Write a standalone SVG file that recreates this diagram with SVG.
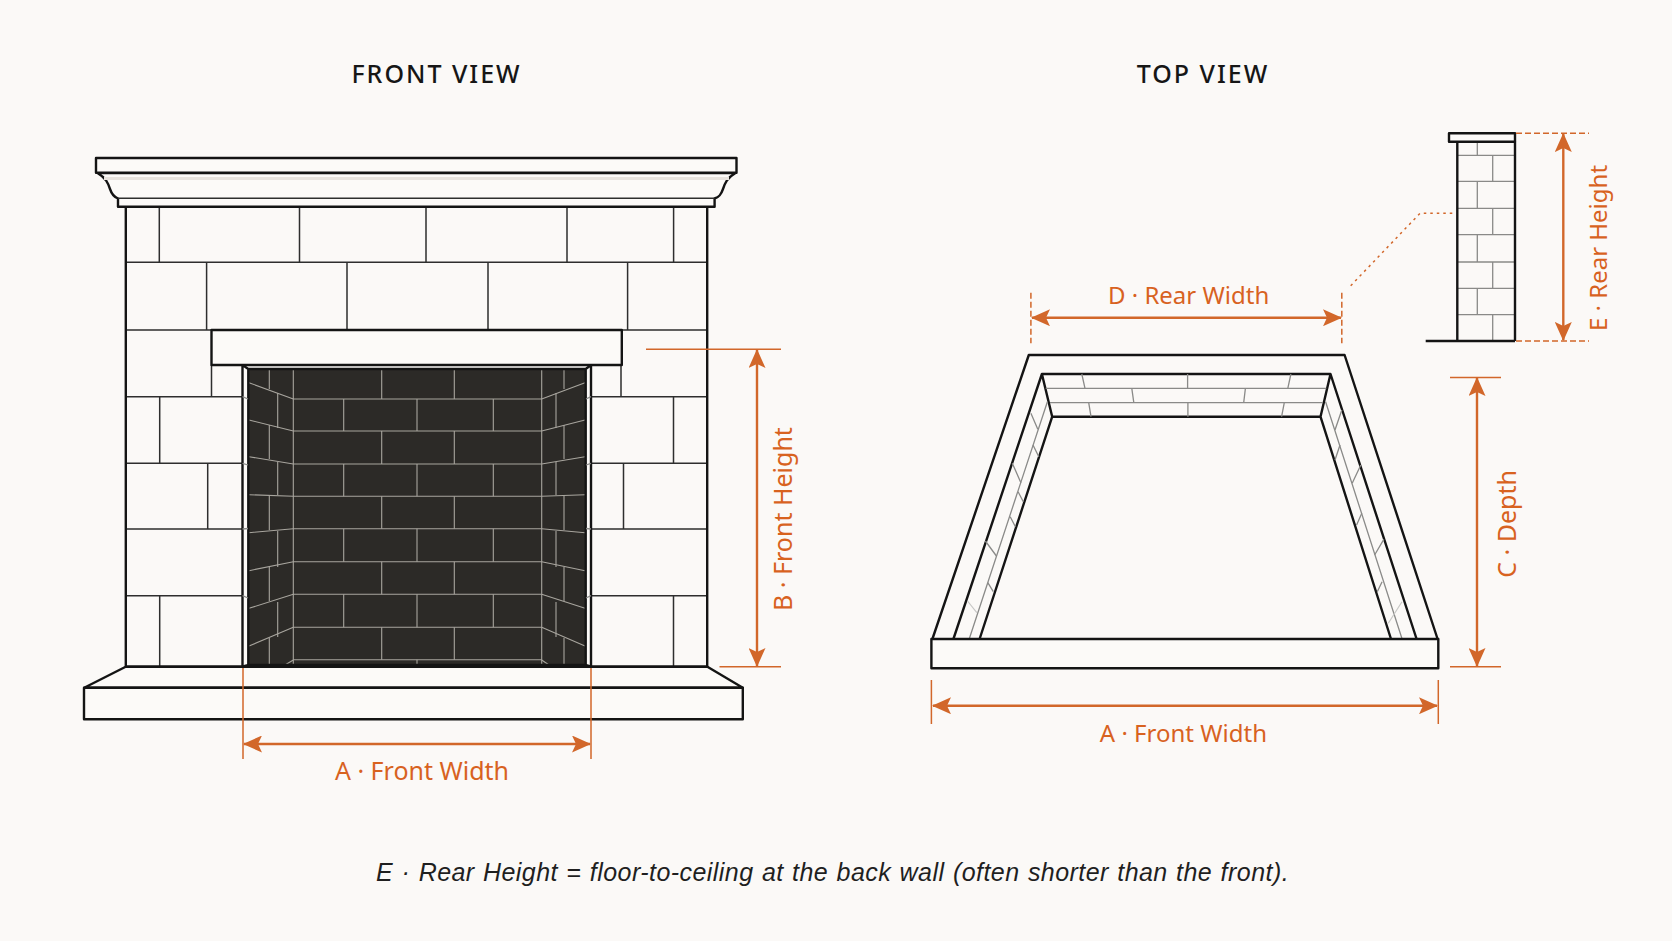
<svg xmlns="http://www.w3.org/2000/svg" width="1672" height="941" viewBox="0 0 1672 941">
<style>
.o{fill:none;stroke:#141414;stroke-width:2.4;stroke-linejoin:round}
.w{fill:#fcfaf8;stroke:#141414;stroke-width:2.4;stroke-linejoin:round}
.m{fill:none;stroke:#2e2e2e;stroke-width:1.5}
.g{fill:none;stroke:#8a8a88;stroke-width:1.3}
.t{fill:none;stroke:#a8a59e;stroke-width:1.1}
.d{fill:none;stroke:#d2672a;stroke-width:2.4}
.e{fill:none;stroke:#d2672a;stroke-width:1.5}
.l{fill:#d8621f;font-family:'Noto Sans','Liberation Sans',sans-serif;font-size:24px;text-anchor:middle}
.b{font-size:25px}
.h{fill:#161616;font-family:'Noto Sans','Liberation Sans',sans-serif;font-size:25px;font-weight:500;letter-spacing:2px;text-anchor:middle}
</style>
<defs>
<marker id="a" viewBox="0 0 19 17" refX="18" refY="8.5" markerWidth="19" markerHeight="17" markerUnits="userSpaceOnUse" orient="auto-start-reverse"><path d="M0 0L19 8.5L0 17L4 8.5Z" fill="#d2672a"/></marker>
</defs>
<rect width="1672" height="941" fill="#fbf9f7"/>
<text class="h" x="436.5" y="83">FRONT VIEW</text>
<text class="h" x="1203" y="83">TOP VIEW</text>
<g id="front-fireplace">
<path class="m" d="M126 262.3H707M126 330H707M126 396.7H243M591 396.7H707M126 463.3H243M591 463.3H707M126 529H243M591 529H707M126 595.7H243M591 595.7H707"/>
<path class="m" d="M159.3 206.7V262.3M299.5 206.7V262.3M426 206.7V262.3M567 206.7V262.3M673.6 206.7V262.3M206.6 262.3V330M347 262.3V330M488 262.3V330M627.6 262.3V330M211.5 365V396.7M621 365V396.7M159.7 396.7V463.3M673.5 396.7V463.3M207.7 463.3V529M623.5 463.3V529M159.7 595.7V666.7M673.5 595.7V666.7"/>
<path class="o" d="M125.8 206.7V666.7H242.5M707.2 206.7V666.7H591"/>
</g>
<g id="front-mantel">
<path class="w" d="M97.5 173C106 178 108 183 110 189C112 195 114 197 118 198.5V206.7H714.6V198.5C719 197 721 195 723 189C725 183 727 178 735.5 173Z"/>
<path fill="none" stroke="#e8e3de" stroke-width="3" d="M104 178.5H729"/>
<path class="m" d="M118 198.3H714.6"/>
<rect class="w" x="96" y="158" width="640.5" height="14.7"/>
</g>
<g id="front-lintel"><rect class="w" x="211.5" y="330" width="410.3" height="35"/></g>
<g id="firebox">
<rect x="248.3" y="369" width="337.4" height="296" fill="#2c2a27"/>
<path class="t" d="M293.3 369V665M541.7 369V665M293.3 399H541.7M293.3 431H541.7M293.3 464H541.7M293.3 496.3H541.7M293.3 528.7H541.7M293.3 561.7H541.7M293.3 594.3H541.7M293.3 627.3H541.7M293.3 659.7H541.7"/>
<path class="t" d="M381.7 369V399M454.3 369V399M343.7 399V431M417 399V431M493.3 399V431M381.7 431V464M454.3 431V464M343.7 464V496.3M417 464V496.3M493.3 464V496.3M381.7 496.3V528.7M454.3 496.3V528.7M343.7 528.7V561.7M417 528.7V561.7M493.3 528.7V561.7M381.7 561.7V594.3M454.3 561.7V594.3M343.7 594.3V627.3M417 594.3V627.3M493.3 594.3V627.3M381.7 627.3V659.7M454.3 627.3V659.7M417 659.7V665"/>
<path class="t" d="M293.3 399L249 382.7M293.3 431L249 420M293.3 464L249 456.7M293.3 496.3L249 494.7M293.3 528.7L249 532.7M293.3 561.7L249 570.7M293.3 594.3L249 608.3M293.3 627.3L249 646M293.3 660L285 665"/>
<path class="t" d="M541.7 399L585 382.7M541.7 431L585 420M541.7 464L585 456.7M541.7 496.3L585 494.7M541.7 528.7L585 532.7M541.7 561.7L585 570.7M541.7 594.3L585 608.3M541.7 627.3L585 646M541.7 660L549 665"/>
<path class="t" d="M269.3 370V389M277.7 393V428M269.3 425V459M277.7 462V495M269.3 495V530M277.7 531V567M269.3 567V601M277.7 602V637M269.3 638V665M564 370V389M556 393V428M564 425V459M556 462V495M564 495V530M556 531V567M564 567V601M556 602V637M564 638V665"/>
<path class="o" d="M242.5 365V666.7M591 365V666.7M248.3 369V665H585.7V369H248.3L242.5 365M585.7 369L591 365M248.3 665L242.5 666.7M585.7 665L591 666.7"/>
<path class="g" d="M242.5 396.7L248 399M242.5 463.3L248 465M242.5 529L248 528.5M242.5 595.7L248 598M591 396.7L586 399M591 463.3L586 465M591 529L586 528.5M591 595.7L586 598"/>
</g>
<g id="front-hearth">
<path class="w" d="M125.7 666.7H707.4L742.8 687.7H84.2Z"/>
<rect class="w" x="84" y="687.7" width="658.8" height="31.6"/>
</g>
<g id="top-view">
<path class="o" d="M932.4 639L1028.8 355H1344.6L1437.6 639M953.4 639L1041.9 374H1330.5L1416.6 639M979.6 639L1052.2 416.7H1320.5L1391 639M1041.9 374L1052.2 416.7M1330.5 374L1320.5 416.7"/>
<path class="g" d="M1045.7 388.3H1326.3M1050 402.7H1322.9M1081.8 374L1085 388.3M1187.6 374V388.3M1290.9 374L1287.8 388.3M1131.8 388.3L1133.8 402.7M1245.4 388.3L1243.7 402.7M1088.7 402.7L1091 416.7M1187.9 402.7V416.7M1284.3 402.7L1281.6 416.7"/>
<path class="g" d="M969.2 639L1047.4 401.7M1402.1 639L1325.6 401.7"/>
<path class="g" d="M1030.9 413.3L1037.8 429.3M1033 445L1038.8 456.7M1012.3 463.3L1020.9 482.7M1018.1 491.7L1023.3 501.7M1010.2 516.7L1015.4 526.7M985.4 541L996.4 556M987.8 582.7L993.3 591.7M1341.8 410L1335 430M1340 445L1335 460M1360.8 465L1352.2 483.3M1361.8 513.3L1356.6 525M1383.8 539.3L1374.6 555M1382.1 581.7L1377.3 591.7"/>
<path fill="none" stroke="#c8c8c6" stroke-width="1.2" d="M967.5 601L976.8 612.7M1402 601.7L1388.3 623.3"/>
<rect class="w" x="931.4" y="639" width="506.9" height="29.3"/>
</g>
<g id="rear-wall">
<path class="g" d="M1457.3 155.3H1515M1457.3 181.3H1515M1457.3 208.3H1515M1457.3 234.7H1515M1457.3 262H1515M1457.3 288.3H1515M1457.3 314.7H1515M1477.3 141.7V155.3M1492.7 155.3V181.3M1477.3 181.3V208.3M1492.7 208.3V234.7M1477.3 234.7V262M1492.7 262V288.3M1477.3 288.3V314.7M1492.7 314.7V341"/>
<path class="o" d="M1457.3 141.7V341M1515 141.7V341M1425.7 341H1515"/>
<rect class="w" x="1449" y="133.3" width="66" height="8.4"/>
</g>
<g id="connectors">
<path class="e" d="M243 668V759M591 668V759M646 349.3H781M719.5 666.7H781M931.4 680V724M1438.3 680V724M1450 377.5H1501M1450 666.7H1501"/>
<path class="e" stroke-dasharray="6 3" d="M1030.9 292.7V343.3M1341.8 292.7V343.3M1516 133.3H1589M1516 341H1589"/>
<path class="e" stroke-dasharray="2.5 4" stroke-width="1.8" d="M1350.7 285.7L1420 213.3H1452.7"/>
<path class="d" marker-start="url(#a)" marker-end="url(#a)" d="M244 744H590"/>
<path class="d" marker-start="url(#a)" marker-end="url(#a)" d="M757 350V666"/>
<path class="d" marker-start="url(#a)" marker-end="url(#a)" d="M1032 317.7H1341"/>
<path class="d" marker-start="url(#a)" marker-end="url(#a)" d="M933 705.7H1437"/>
<path class="d" marker-start="url(#a)" marker-end="url(#a)" d="M1477 378V666"/>
<path class="d" marker-start="url(#a)" marker-end="url(#a)" d="M1563.3 134V340"/>
</g>
<g id="labels">
<text class="l b" x="422" y="780">A · Front Width</text>
<text class="l b" transform="translate(792 519) rotate(-90)">B · Front Height</text>
<text class="l" x="1188.6" y="303.5">D · Rear Width</text>
<text class="l" x="1183.4" y="742">A · Front Width</text>
<text class="l b" transform="translate(1516 524) rotate(-90)">C · Depth</text>
<text class="l" transform="translate(1606.7 248) rotate(-90)">E · Rear Height</text>
<text x="832.5" y="881" fill="#1f1f1f" font-family="'Liberation Sans',sans-serif" font-size="25" font-style="italic" letter-spacing="0.45" word-spacing="1" text-anchor="middle">E · Rear Height = floor-to-ceiling at the back wall (often shorter than the front).</text>
</g>
</svg>
